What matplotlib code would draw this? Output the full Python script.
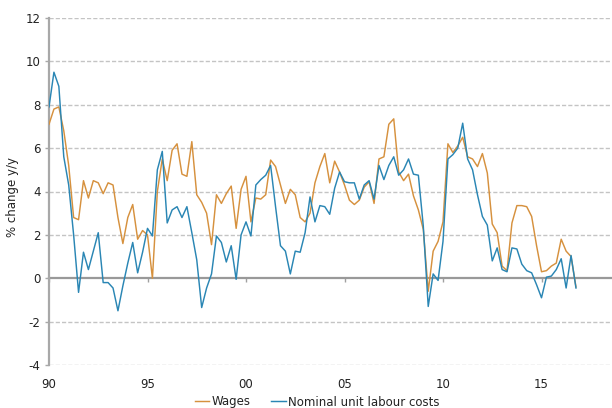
import matplotlib
matplotlib.use("Agg")
import matplotlib.pyplot as plt
import numpy as np

plt.rcParams['font.family'] = ['DejaVu Sans']

start_year = 1990
wages = [7.1, 7.8, 7.9, 6.8, 5.2, 2.8, 2.7, 4.5, 3.7, 4.5,
         4.4, 3.9, 4.4, 4.3, 2.8, 1.6, 2.8, 3.4, 1.8, 2.2,
         2.0, 0.0, 4.0, 5.5, 4.5, 5.9, 6.2, 4.8, 4.7, 6.3,
         3.85, 3.5, 3.0, 1.55, 3.85, 3.45, 3.9, 4.25, 2.3, 4.1,
         4.7, 2.6, 3.7, 3.65, 3.85, 5.45, 5.15, 4.3, 3.45, 4.1,
         3.85, 2.8, 2.6, 3.0, 4.4, 5.15, 5.75, 4.4, 5.4, 4.9,
         4.3, 3.6, 3.4, 3.6, 4.2, 4.45, 3.45, 5.5, 5.6, 7.1,
         7.35, 4.9, 4.5, 4.8, 3.8, 3.15, 2.25, -0.6, 1.25, 1.7,
         2.6, 6.2, 5.8, 6.1, 6.5, 5.6, 5.5, 5.15, 5.75, 4.85,
         2.5, 2.1, 0.56, 0.35, 2.55, 3.35, 3.35, 3.3, 2.85, 1.5,
         0.3, 0.35, 0.56, 0.7, 1.8, 1.25, 1.0, -0.4]
ulc = [7.9, 9.5, 8.85, 5.6, 4.3, 2.0, -0.65, 1.2, 0.4, 1.25,
       2.1, -0.2, -0.2, -0.45, -1.5, -0.35, 0.7, 1.65, 0.25, 1.2,
       2.3, 1.95, 5.0, 5.85, 2.55, 3.15, 3.3, 2.8, 3.3, 2.1,
       0.85, -1.35, -0.45, 0.2, 1.95, 1.65, 0.75, 1.5, -0.05, 2.0,
       2.6, 1.95, 4.3, 4.55, 4.75, 5.2, 3.3, 1.5, 1.25, 0.2,
       1.25, 1.2, 2.1, 3.75, 2.6, 3.35, 3.3, 2.95, 4.15, 4.9,
       4.45, 4.4, 4.4, 3.65, 4.3, 4.5, 3.65, 5.2, 4.55, 5.2,
       5.6, 4.75, 5.0, 5.5, 4.8, 4.75, 2.4, -1.3, 0.2, -0.1,
       1.7, 5.5, 5.7, 6.0, 7.15, 5.5, 5.0, 3.85, 2.85, 2.45,
       0.8, 1.4, 0.4, 0.3, 1.4, 1.35, 0.65, 0.35, 0.25, -0.3,
       -0.9, 0.05, 0.1, 0.4, 0.9, -0.45, 1.05, -0.45]
tick_years = [1990, 1995, 2000, 2005, 2010, 2015]
tick_labels = ["90", "95", "00", "05", "10", "15"]
y_ticks = [-4, -2, 0, 2, 4, 6, 8, 10, 12]
series_names = ["Wages", "Nominal unit labour costs"]

x = start_year + np.arange(len(wages)) / 4.0

fig = plt.figure(figsize=(6.12, 4.08), dpi=100)
ax = fig.add_axes([49/612, 1 - 365/408, (612-49)/612, (365-18)/408])

orange = '#D6913E'
blue = '#2A86B4'
ax.plot(x, wages, color=orange, lw=1.05, label=series_names[0], zorder=3)
ax.plot(x, ulc, color=blue, lw=1.05, label=series_names[1], zorder=3)

ax.set_ylim(-4, 12)
ax.set_xlim(1990, 1990 + (612-49)/19.7)
ax.set_yticks(y_ticks)
ax.set_yticklabels([str(v) for v in y_ticks])
for v in y_ticks:
    if v != 0:
        ax.axhline(v, color='#c4c4c4', lw=1.0, dashes=(3, 1.5), zorder=1)

for s in ['top', 'right', 'bottom']:
    ax.spines[s].set_visible(False)
ax.spines['left'].set_color('#a8a8a8')
ax.spines['left'].set_linewidth(1.6)

ax.set_xticks(tick_years)
ax.set_xticklabels(tick_labels)
ax.tick_params(axis='x', length=0, pad=9, labelsize=8.5, labelcolor='#222222')
ax.tick_params(axis='y', direction='out', length=3, color='#a8a8a8', width=1,
               pad=3, labelsize=8.5, labelcolor='#222222')

sec = ax.secondary_xaxis(4/16)
sec.set_xticks(tick_years)
sec.tick_params(direction='out', length=3, color='#a0a0a0', width=1, labelbottom=False)
sec.spines['bottom'].set_color('#999999')
sec.spines['bottom'].set_linewidth(1.6)

ax.set_ylabel('% change y/y', fontsize=8.5, color='#222222')
ax.yaxis.set_label_coords(-0.054, 0.485)

leg = fig.legend(loc='center', bbox_to_anchor=(317/612, 1 - 402/408), ncol=2,
                 frameon=False, fontsize=8.5, handlelength=1.2, handletextpad=0.2,
                 columnspacing=1.8, borderpad=0)
for t in leg.get_texts():
    t.set_color('#222222')

fig.savefig('out.png', dpi=100)
